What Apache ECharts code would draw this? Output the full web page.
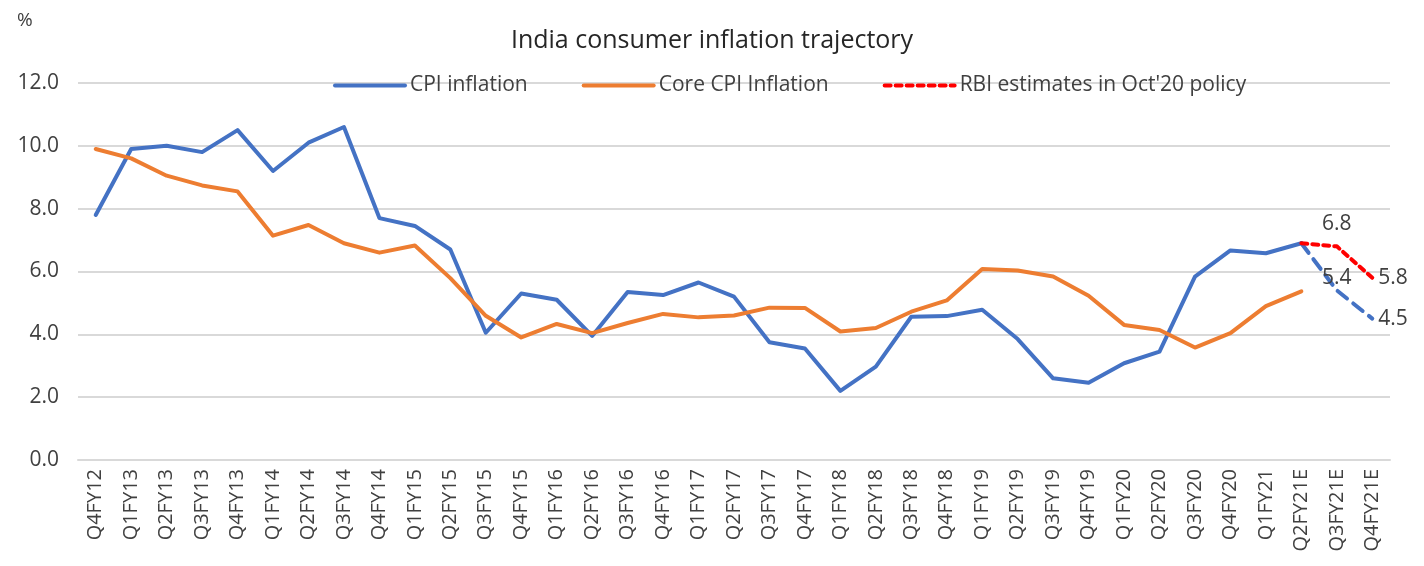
<!DOCTYPE html>
<html>
<head>
    <meta charset="utf-8">
    <title>India consumer inflation trajectory</title>
    <script src="https://cdn.jsdelivr.net/npm/echarts@6/dist/echarts.min.js"></script>
</head>
<body style="margin:0">
    <div id="main" style="width: 1424px;height:566px;"></div>
    <script type="text/javascript">
        var quarters = ['Q4FY12', 'Q1FY13', 'Q2FY13', 'Q3FY13', 'Q4FY13', 'Q1FY14', 'Q2FY14', 'Q3FY14',
            'Q4FY14', 'Q1FY15', 'Q2FY15', 'Q3FY15', 'Q4FY15', 'Q1FY16', 'Q2FY16', 'Q3FY16', 'Q4FY16',
            'Q1FY17', 'Q2FY17', 'Q3FY17', 'Q4FY17', 'Q1FY18', 'Q2FY18', 'Q3FY18', 'Q4FY18', 'Q1FY19',
            'Q2FY19', 'Q3FY19', 'Q4FY19', 'Q1FY20', 'Q2FY20', 'Q3FY20', 'Q4FY20', 'Q1FY21', 'Q2FY21E',
            'Q3FY21E', 'Q4FY21E'];

        // CPI actuals (up to Q2FY21E)
        var cpi = [7.8, 9.9, 10.0, 9.8, 10.5, 9.2, 10.1, 10.6, 7.7, 7.45, 6.7, 4.05, 5.3, 5.1, 3.95,
            5.35, 5.25, 5.65, 5.2, 3.75, 3.55, 2.2, 2.97, 4.56, 4.58, 4.78, 3.85, 2.6, 2.46, 3.08, 3.45,
            5.84, 6.67, 6.58, 6.9];
        // CPI projection (dashed)
        var cpiProj = [6.9, 5.4, 4.5];
        var core = [9.9, 9.6, 9.05, 8.74, 8.55, 7.14, 7.48, 6.9, 6.6, 6.83, 5.79, 4.59, 3.9, 4.33, 4.04,
            4.36, 4.65, 4.54, 4.6, 4.85, 4.84, 4.09, 4.2, 4.72, 5.08, 6.08, 6.03, 5.84, 5.23, 4.3, 4.14,
            3.58, 4.04, 4.9, 5.37];
        var rbi = [6.9, 6.8, 5.8];

        var font = 'Open Sans';
        var textColor = '#404040';

        // pad the short series with nulls so they sit on the last quarters;
        // first point has no label
        function tail(arr, labelPos, dist) {
            var out = [];
            for (var i = 0; i < quarters.length - arr.length; i++) out.push(null);
            arr.forEach(function (v, j) {
                out.push({
                    value: v,
                    label: labelPos[j] ? { show: true, position: labelPos[j], distance: dist[j] } : { show: false }
                });
            });
            return out;
        }

        var myChart = echarts.init(document.getElementById('main'));
        var option = {
            animation: false,
            textStyle: { fontFamily: font, color: textColor },
            title: {
                text: 'India consumer inflation trajectory',
                left: 'center',
                top: 23,
                textStyle: { fontFamily: font, fontSize: 25, fontWeight: 'normal', color: '#262626' }
            },
            graphic: [{
                type: 'text', left: 17, top: 11,
                style: { text: '%', fontFamily: font, fontSize: 19, fill: textColor }
            }],
            legend: {
                data: ['CPI inflation', 'Core CPI Inflation', "RBI estimates in Oct'20 policy"],
                left: 328,
                top: 70,
                itemWidth: 70,
                itemHeight: 4,
                itemGap: 54,
                itemStyle: { opacity: 0 },
                lineStyle: { width: 4, cap: 'round' },
                textStyle: { fontFamily: font, fontSize: 21, color: textColor }
            },
            grid: { left: 78, right: 34, top: 83, bottom: 106 },
            xAxis: {
                type: 'category',
                data: quarters,
                boundaryGap: true,
                axisLine: { lineStyle: { color: '#d9d9d9', width: 2 } },
                axisTick: { show: false },
                axisLabel: { rotate: 90, interval: 0, margin: 9, fontSize: 20, fontFamily: font, color: textColor }
            },
            yAxis: {
                type: 'value',
                min: 0, max: 12, interval: 2,
                axisLine: { show: false },
                axisTick: { show: false },
                splitLine: { lineStyle: { color: '#d9d9d9', width: 2 } },
                axisLabel: {
                    margin: 19, fontSize: 21, fontFamily: font, color: textColor,
                    formatter: function (v) { return v.toFixed(1); }
                }
            },
            series: [{
                name: 'CPI inflation',
                type: 'line',
                data: cpi,
                symbol: 'none',
                color: '#4472C4',
                lineStyle: { width: 4, cap: 'round', join: 'round' }
            }, {
                name: 'Core CPI Inflation',
                type: 'line',
                data: core,
                symbol: 'none',
                color: '#ED7D31',
                lineStyle: { width: 4, cap: 'round', join: 'round' }
            }, {
                name: 'CPI projection',
                type: 'line',
                data: tail(cpiProj, [null, 'top', 'right'], [0, 2, 6]),
                symbol: 'circle',
                symbolSize: 0,
                showSymbol: true,
                color: '#4472C4',
                lineStyle: { width: 4, type: [12, 8], cap: 'round' },
                label: { fontSize: 21, fontFamily: font, color: textColor }
            }, {
                name: "RBI estimates in Oct'20 policy",
                type: 'line',
                data: tail(rbi, [null, 'top', 'right'], [0, 12, 6]),
                symbol: 'circle',
                symbolSize: 0,
                showSymbol: true,
                color: '#FF0000',
                lineStyle: { width: 4, type: [6, 5], cap: 'round' },
                label: { fontSize: 21, fontFamily: font, color: textColor }
            }]
        };
        myChart.setOption(option);
    </script>
</body>
</html>
